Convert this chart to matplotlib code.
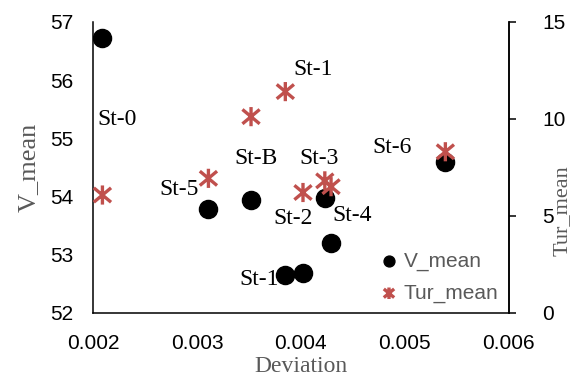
import matplotlib
matplotlib.use("Agg")
import matplotlib.pyplot as plt
from matplotlib.path import Path

# station data: deviation vs mean velocity and mean turbulence
deviation = [0.00209, 0.00311, 0.00352, 0.00385, 0.00402, 0.00423, 0.00429, 0.00539]
v_mean = [56.72, 53.78, 53.94, 52.66, 52.68, 53.97, 53.20, 54.60]
tur_mean = [6.08, 6.94, 10.12, 11.41, 6.21, 6.81, 6.51, 8.31]

station_labels = ["St-0", "St-5", "St-B", "St-1", "St-3", "St-2", "St-4", "St-6", "St-1"]
label_x = [0.002231, 0.002827, 0.003567, 0.004115, 0.004173, 0.003923, 0.00449, 0.004875, 0.0036]
label_y = [55.33, 54.13, 54.66, 56.19, 54.65, 53.62, 53.68, 54.84, 52.58]

gray = "#595959"
red = "#C0504D"
sans = ["Liberation Sans", "DejaVu Sans"]
serif = ["Liberation Serif", "DejaVu Serif"]

# star marker: an x with a vertical bar through it
star = Path(
    [(0, -1), (0, 1), (-0.9, -0.75), (0.9, 0.75), (-0.9, 0.75), (0.9, -0.75)],
    [Path.MOVETO, Path.LINETO, Path.MOVETO, Path.LINETO, Path.MOVETO, Path.LINETO],
)

fig = plt.figure(figsize=(5.71, 3.76), dpi=100)
ax = fig.add_axes([0.163, 0.1676, 0.728, 0.774])
ax2 = ax.twinx()

ax.scatter(deviation, v_mean, s=170, color="black", marker="o", label="V_mean", zorder=3)
ax2.scatter(deviation, tur_mean, s=190, marker=star, facecolor="none",
            edgecolor=red, linewidths=2.4, label="Tur_mean", zorder=4)

for t, x, y in zip(station_labels, label_x, label_y):
    ax.text(x, y, t, ha="center", va="center", fontsize=17, family=serif,
            color="black", zorder=5)

ax.set_xlim(0.002, 0.006)
ax.set_ylim(52, 57)
ax2.set_ylim(0, 15)
ax.set_xticks([0.002, 0.003, 0.004, 0.005, 0.006])
ax.set_xticklabels(["0.002", "0.003", "0.004", "0.005", "0.006"])
ax.set_yticks(range(52, 58))
ax2.set_yticks([0, 5, 10, 15])

for a in (ax, ax2):
    a.spines["top"].set_visible(False)
    for s in a.spines.values():
        s.set_linewidth(1.1)
ax2.spines["left"].set_visible(False)
ax2.spines["bottom"].set_visible(False)

ax.tick_params(axis="x", length=0, pad=15, labelsize=15)
ax.tick_params(axis="y", length=0, pad=14, labelsize=15)
ax2.tick_params(axis="y", length=5, width=1.1, pad=19, labelsize=15)
for lbl in ax.get_xticklabels() + ax.get_yticklabels() + ax2.get_yticklabels():
    lbl.set_family(sans)

ax.set_xlabel("Deviation", fontsize=17, family=serif, color=gray, labelpad=2)
ax.set_ylabel("V_mean", fontsize=19, family=serif, color=gray, labelpad=8)
ax2.set_ylabel("Tur_mean", fontsize=16, family=serif, color=gray)
ax2.yaxis.set_label_coords(1.105, 0.35)

h1, l1 = ax.get_legend_handles_labels()
h2, l2 = ax2.get_legend_handles_labels()
leg = ax2.legend(h1 + h2, l1 + l2, loc="lower right", bbox_to_anchor=(1.02, -0.03),
                 frameon=False, prop={"family": sans, "size": 15},
                 handlelength=0.6, handletextpad=0.4, labelspacing=0.6,
                 markerscale=0.6)
for t in leg.get_texts():
    t.set_color(gray)

fig.savefig("out.png", dpi=100)
